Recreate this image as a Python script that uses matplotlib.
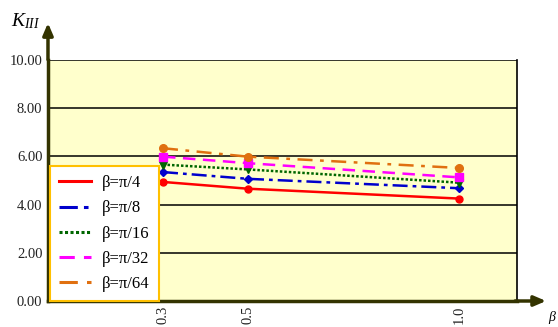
import numpy as np
import matplotlib
matplotlib.use('Agg')
import matplotlib.pyplot as plt
from matplotlib.lines import Line2D

plt.rcParams['font.family'] = ['Liberation Serif', 'DejaVu Serif']
plt.rcParams['mathtext.fontset'] = 'custom'
plt.rcParams['mathtext.rm'] = 'Liberation Serif'
plt.rcParams['mathtext.it'] = 'Liberation Serif:italic'

# data
x_vals = [0.3, 0.5, 1.0]
x_labels = ['0.3', '0.5', '1.0']
labels = ['β=π/4', 'β=π/8', 'β=π/16', 'β=π/32', 'β=π/64']
k_pi4 = [4.94, 4.66, 4.25]
k_pi8 = [5.35, 5.07, 4.68]
k_pi16 = [5.66, 5.46, 4.91]
k_pi32 = [5.99, 5.72, 5.13]
k_pi64 = [6.34, 5.99, 5.52]
y_ticks = [0, 2, 4, 6, 8, 10]

series = [k_pi4, k_pi8, k_pi16, k_pi32, k_pi64]
colors = ['#ff0000', '#0000cc', '#006600', '#ff00ff', '#e07010']
styles = ['-', (0, (6, 2, 1.5, 2)), (0, (1, 0.8)), (0, (5, 3)), (0, (6, 3, 1.5, 3))]
markers = ['o', 'D', 'v', 's', 'o']
msizes = [5, 4.5, 5.5, 5.5, 5.5]

fig = plt.figure(figsize=(5.58, 3.27), dpi=100)
ax = fig.add_axes([0.086, 0.0795, 0.8405, 0.737])
ax.set_facecolor('#ffffcc')

for i in range(5):
    ax.plot(x_vals, series[i], color=colors[i], linestyle=styles[i], lw=1.8, zorder=3)
    ax.plot(x_vals, series[i], color=colors[i], linestyle='none', marker=markers[i],
            markersize=msizes[i], zorder=4)

ax.set_xlim(0.028, 1.137)
ax.set_ylim(0, 10)
ax.set_yticks(y_ticks)
ax.set_yticklabels(['{:.2f}'.format(v) for v in y_ticks], fontsize=10.5, color='#222222')
ax.set_xticks(x_vals)
ax.set_xticklabels(x_labels, rotation=90, fontsize=10.5, color='#222222')
ax.tick_params(axis='both', length=0, pad=4)
ax.tick_params(axis='x', pad=3)
ax.grid(axis='y', color='black', lw=1.1, zorder=1)
ax.set_axisbelow(True)

ax.spines['top'].set_visible(False)
ax.spines['right'].set_color('black')
ax.spines['right'].set_linewidth(1.2)
ax.spines['left'].set_color('#333300')
ax.spines['left'].set_linewidth(2.5)
ax.spines['bottom'].set_color('#333300')
ax.spines['bottom'].set_linewidth(2.5)

# axis arrows
ax.annotate('', xy=(0, 1.165), xytext=(0, 0.99), xycoords='axes fraction',
            arrowprops=dict(arrowstyle='-|>,head_length=0.7,head_width=0.3',
                            color='#333300', lw=2.5), annotation_clip=False)
ax.annotate('', xy=(1.068, 0), xytext=(0.99, 0), xycoords='axes fraction',
            arrowprops=dict(arrowstyle='-|>,head_length=0.7,head_width=0.3',
                            color='#333300', lw=2.5), annotation_clip=False)

fig.text(0.02, 0.935, '$K_{III}$', fontsize=14, ha='left', va='center')
fig.text(0.982, 0.03, 'β', fontsize=10, style='italic', ha='left', va='center')

handles = [Line2D([0], [0], color=colors[i], linestyle=styles[i], lw=2.2) for i in range(5)]
leg = ax.legend(handles, labels, loc='lower left', bbox_to_anchor=(0.004, 0.0),
                fontsize=12, frameon=True, fancybox=False, handlelength=1.9,
                labelspacing=0.55, borderpad=0.55, handletextpad=0.7,
                borderaxespad=0.0)
leg.get_frame().set_edgecolor('#ffc000')
leg.get_frame().set_linewidth(1.5)
leg.get_frame().set_facecolor('white')
leg.get_frame().set_alpha(1)

fig.savefig('out.png', dpi=100)
